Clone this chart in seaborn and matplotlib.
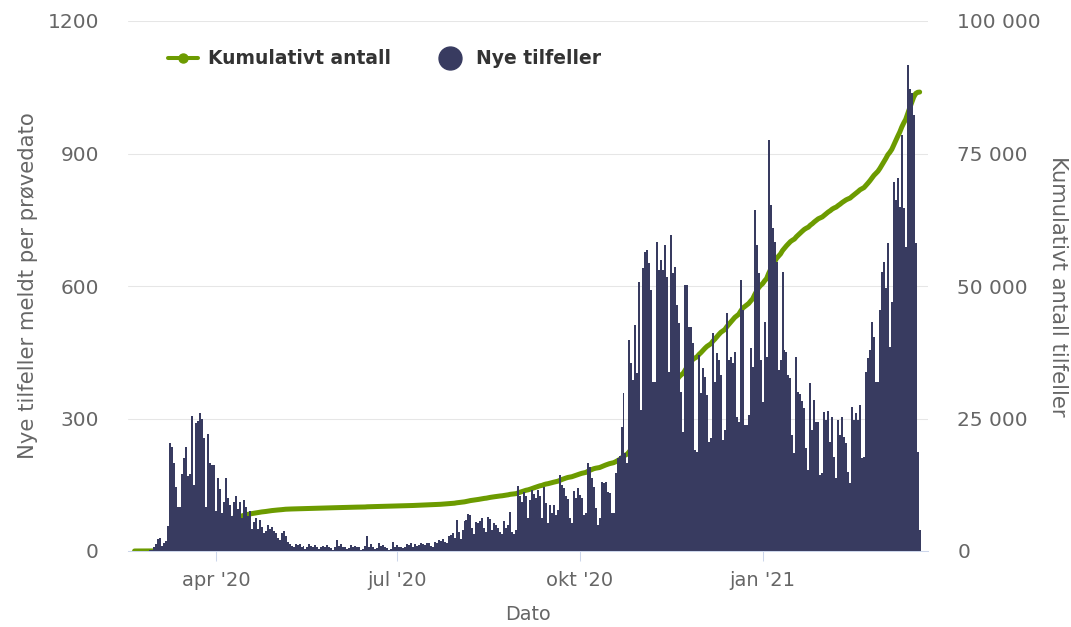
import matplotlib
matplotlib.use("Agg")
import matplotlib.pyplot as plt
import matplotlib.dates as mdates
from matplotlib.lines import Line2D
from matplotlib.ticker import FuncFormatter
import numpy as np
import pandas as pd
import seaborn as sns

# daily new cases by test date (starts 2020-02-20)
start_date = "2020-02-20"
feb_2020 = [0, 0, 0, 0, 0, 0, 1, 1, 3, 2]
mar_2020 = [8, 15, 28, 30, 12, 18, 22, 57,
            245, 235, 200, 145, 100, 100, 175,
            210, 235, 170, 175, 305, 150, 290,
            295, 312, 298, 255, 100, 265, 200,
            195, 195]
apr_2020 = [90, 165, 140, 85, 110,
            165, 120, 105, 80, 110, 125, 95,
            110, 75, 115, 100, 80, 90, 50,
            65, 75, 50, 70, 55, 40, 45,
            60, 50, 55, 45]
may_2020 = [40, 30, 25,
            40, 45, 35, 20, 15, 12, 10,
            15, 14, 15, 10, 12, 5, 8,
            15, 12, 10, 14, 8, 5, 10,
            12, 10, 14, 9, 6, 3, 8]
jun_2020 = [25, 12, 15, 8, 10, 4, 6,
            14, 10, 12, 9, 8, 3, 5,
            12, 33, 10, 15, 10, 4, 6,
            18, 12, 14, 10, 7, 3, 5,
            20, 10]
jul_2020 = [13, 10, 9, 7, 8,
            15, 13, 17, 10, 15, 11, 13,
            19, 15, 13, 17, 19, 11, 10,
            20, 17, 25, 23, 27, 20, 17,
            35, 37, 40, 30, 71]
aug_2020 = [43, 28,
            48, 68, 71, 83, 82, 53, 38,
            65, 63, 68, 74, 53, 43, 77,
            73, 48, 63, 58, 53, 43, 38,
            69, 53, 58, 89, 44, 38, 48,
            148]
sep_2020 = [124, 112, 133, 125, 75, 115,
            139, 130, 120, 139, 125, 75, 146,
            108, 63, 105, 87, 104, 81, 93,
            172, 149, 142, 125, 118, 74, 63,
            135, 119, 142]
okt_2020 = [127, 120, 81, 85,
            199, 190, 165, 146, 97, 59, 75,
            157, 154, 157, 134, 131, 86, 86,
            177, 210, 214, 281, 358, 222, 199,
            478, 425, 387, 512, 403, 610]
nov_2020 = [319,
            641, 678, 681, 651, 591, 383, 383,
            700, 636, 659, 636, 693, 620, 406,
            715, 629, 644, 557, 516, 361, 270,
            602, 602, 508, 508, 470, 229, 225,
            444]
des_2020 = [357, 414, 395, 353, 247, 255,
            493, 383, 448, 432, 398, 251, 274,
            538, 432, 440, 425, 451, 304, 293,
            614, 546, 285, 285, 308, 459, 417,
            772, 693, 629, 432]
jan_2021 = [338, 519, 440,
            931, 783, 731, 700, 655, 410, 432,
            632, 455, 451, 398, 391, 263, 221,
            440, 361, 355, 340, 323, 233, 183,
            380, 274, 342, 293, 293, 172, 176]
feb_2021 = [315, 297, 317, 247, 304, 213, 165,
            297, 263, 304, 259, 244, 180, 153,
            327, 297, 312, 297, 331, 210, 213,
            406, 436, 455, 519, 485, 383, 383]
mar_2021 = [546, 632, 655, 595, 697, 462, 564,
            836, 795, 844, 779, 942, 776, 689,
            1100, 1047, 1036, 987, 697, 225, 48]

x_ticks = ["2020-04-01", "2020-07-01", "2020-10-01", "2021-01-01"]
x_labels = ["apr '20", "jul '20", "okt '20", "jan '21"]
left_ticks = [0, 300, 600, 900, 1200]
right_ticks = [0, 25000, 50000, 75000, 100000]

nye = (feb_2020 + mar_2020 + apr_2020 + may_2020 + jun_2020 + jul_2020 + aug_2020
       + sep_2020 + okt_2020 + nov_2020 + des_2020 + jan_2021 + feb_2021 + mar_2021)
df = pd.DataFrame({"dato": pd.date_range(start_date, periods=len(nye), freq="D"),
                   "nye": nye})
df["kumulativt"] = df["nye"].cumsum()

navy = "#383b60"
green = "#6c9b00"
grey = "#666666"

sns.set_style("white")
plt.rcParams["font.family"] = ["DejaVu Sans"]

fig = plt.figure(figsize=(10.71, 6.27), dpi=100)
ax = fig.add_axes([128 / 1071, 76 / 627, 800 / 1071, 530 / 627])
ax2 = ax.twinx()
ax.set_zorder(ax2.get_zorder() + 1)
ax.patch.set_visible(False)

sns.barplot(data=df, x="dato", y="nye", ax=ax, native_scale=True, width=1,
            color=navy, saturation=1, errorbar=None, linewidth=0)
sns.lineplot(data=df, x="dato", y="kumulativt", ax=ax2, color=green,
             linewidth=3.6, solid_capstyle="round")

apr1 = mdates.date2num(pd.Timestamp("2020-04-01"))
ax.set_xlim(apr1 - 44.3, apr1 + 358.2)
ax.set_ylim(0, 1200)
ax2.set_ylim(0, 100000)

ax.set_xticks([mdates.date2num(pd.Timestamp(d)) for d in x_ticks])
ax.set_xticklabels(x_labels)
ax.set_yticks(left_ticks)
ax.set_yticklabels([str(v) for v in left_ticks])
ax2.set_yticks(right_ticks)
ax2.yaxis.set_major_formatter(FuncFormatter(lambda v, p: f"{int(v):,}".replace(",", " ")))

ax.grid(False)
ax2.grid(False)
ax2.yaxis.grid(True, color="#e6e6e6", linewidth=0.75)

for s in ["left", "right", "top"]:
    ax.spines[s].set_visible(False)
ax.spines["bottom"].set_color("#ccd6eb")
ax.spines["bottom"].set_linewidth(0.75)
for s in ax2.spines.values():
    s.set_visible(False)

ax.tick_params(axis="x", length=7.2, width=0.75, color="#ccd6eb", pad=7,
               labelsize=14, labelcolor=grey, bottom=True)
ax.tick_params(axis="y", length=0, pad=21, labelsize=14.5, labelcolor=grey)
ax2.tick_params(axis="y", length=0, pad=21, labelsize=14.5, labelcolor=grey)

ax.set_xlabel("Dato", fontsize=13.8, color=grey, labelpad=11)
ax.set_ylabel("Nye tilfeller meldt per prøvedato", fontsize=15.2, color=grey, labelpad=7)
ax2.set_ylabel("Kumulativt antall tilfeller", fontsize=15.2, color=grey,
               rotation=270, va="bottom", labelpad=5)

handles = [Line2D([], [], color=green, lw=2.9, marker="o", markersize=6.5),
           Line2D([], [], ls="none", marker="o", markersize=16.5, color=navy)]
leg = ax.legend(handles, ["Kumulativt antall", "Nye tilfeller"], ncol=2, frameon=False,
                loc="center left", bbox_to_anchor=(168 / 1071, 1 - 59 / 627),
                bbox_transform=fig.transFigure, borderpad=0, borderaxespad=0,
                handlelength=1.6, handletextpad=0.55, columnspacing=2.35,
                prop={"weight": "bold", "size": 13.5})
for t in leg.get_texts():
    t.set_color("#333333")

fig.savefig("out.png", dpi=100)
